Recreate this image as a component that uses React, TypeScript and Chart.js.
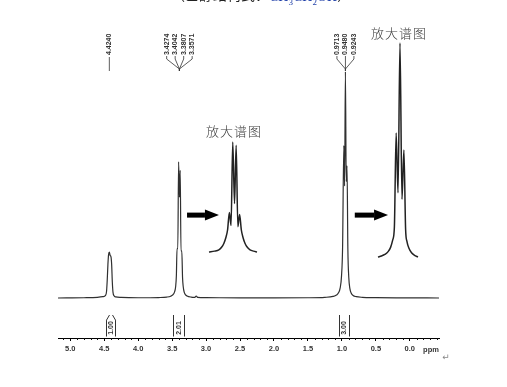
import React, { useEffect, useRef } from 'react';
import { Chart, registerables } from 'chart.js';

Chart.register(...registerables);

// ---------- data ----------
// main 1H spectrum: [chemical shift (ppm), relative intensity]
const mainSpectrum: [number, number][] = [
  [5.18, 0], [4.8, 0.1], [4.6, 0.3], [4.52, 0.6], [4.48, 1.2], [4.465, 3], [4.455, 8],
  [4.445, 15], [4.435, 19.5], [4.424, 20.5], [4.412, 19], [4.4, 18.4], [4.39, 15], [4.38, 7],
  [4.37, 2.5], [4.355, 1.0], [4.33, 0.5], [4.25, 0.25], [4.0, 0.1], [3.7, 0.2], [3.58, 0.4],
  [3.52, 0.8], [3.49, 1.4], [3.465, 2.6], [3.448, 5], [3.437, 10], [3.4274, 22], [3.416, 22],
  [3.4042, 60.8], [3.392, 45], [3.3807, 57], [3.369, 21], [3.3571, 21], [3.346, 9], [3.336, 5],
  [3.322, 2.6], [3.305, 1.5], [3.28, 0.9], [3.22, 0.4], [3.165, 0.3], [3.145, 0.9], [3.125, 0.3],
  [3.0, 0.15], [2.5, 0.05], [2.0, 0.05], [1.5, 0.1], [1.25, 0.3], [1.13, 0.7], [1.08, 1.3],
  [1.05, 2.3], [1.025, 4.5], [1.005, 10], [0.99, 22], [0.9713, 68], [0.96, 50], [0.948, 101],
  [0.936, 52], [0.9243, 59], [0.912, 22], [0.898, 9], [0.882, 4.2], [0.862, 2.1], [0.835, 1.1],
  [0.79, 0.6], [0.7, 0.3], [0.5, 0.15], [0.2, 0.05], [-0.43, 0],
];

// magnified CH2 quartet
const quartetInset: [number, number][] = [
  [3.568, 0], [3.53, 0.8], [3.5, 2], [3.48, 4.5], [3.465, 8], [3.452, 13], [3.44, 20],
  [3.4274, 36], [3.416, 24], [3.4042, 100], [3.392, 44], [3.3807, 97], [3.369, 23],
  [3.3571, 34], [3.345, 20], [3.333, 13], [3.32, 8], [3.305, 4.5], [3.285, 2], [3.26, 0.8],
  [3.237, 0],
];

// magnified CH3 triplet
const tripletInset: [number, number][] = [
  [1.0813, 0], [1.06, 0.5], [1.04, 1.2], [1.02, 2.5], [1.005, 4.5], [0.992, 8], [0.982, 14],
  [0.9713, 58], [0.96, 30], [0.948, 100], [0.936, 27], [0.9243, 50], [0.914, 13], [0.905, 7],
  [0.893, 4], [0.878, 2], [0.86, 0.8], [0.839, 0],
];

const peakLabelGroups: string[][] = [
  ['4.4240'],
  ['3.4274', '3.4042', '3.3807', '3.3571'],
  ['0.9713', '0.9480', '0.9243'],
];

const integralRanges: [number, number][] = [[4.48, 4.34], [3.48, 3.33], [1.04, 0.89]];
const integralValues: string[] = ['1.00', '2.01', '3.00'];

const arrowSpans: [number, number][] = [[3.28, 2.81], [0.81, 0.32]];
const ARROW_LEVEL = 37;

const insetTitle = '放大谱图';
const axisUnit = 'ppm';

// ---------- axis ranges ----------
const X_RANGE = { min: -0.43, max: 5.18 };
const Y_RANGE = { min: -17.86, max: 124.1 };
const QUARTET_X = { min: 1.9818, max: 4.6094 };
const QUARTET_Y = { min: -78.18, max: 210.9 };
const TRIPLET_X = { min: 0.7116, max: 3.0207 };
const TRIPLET_Y = { min: -37.85, max: 110.75 };
const TICK_STEP = 0.5;
const MINOR_STEP = 0.1;

// ---------- style constants ----------
const LABEL_BOTTOM = 55;
const LEADER_END = 71;
const LABEL_SPACING = 8.5;
const INTEGRAL_NECK = [3, 0, 0];
const NUM_FONT = 'bold 7px "Liberation Sans", Arial, sans-serif';

const toXY = (arr: [number, number][]) => arr.map(([x, y]) => ({ x, y }));

const nmrPlugin = {
  id: 'nmrDecor',
  afterDatasetsDraw(chart: any) {
    const { ctx, chartArea: area, scales } = chart;
    const xs = scales.x;
    const ys = scales.y;
    ctx.save();

    // minor ticks
    ctx.strokeStyle = '#111';
    ctx.lineWidth = 1;
    const startI = Math.ceil(X_RANGE.min / MINOR_STEP - 1e-9);
    const endI = Math.floor(X_RANGE.max / MINOR_STEP + 1e-9);
    for (let i = startI; i <= endI; i++) {
      if (Math.abs(i % 5) === 0) continue;
      const px = Math.round(xs.getPixelForValue(i * MINOR_STEP)) + 0.5;
      ctx.beginPath();
      ctx.moveTo(px, area.bottom);
      ctx.lineTo(px, area.bottom + 2);
      ctx.stroke();
    }

    // peak labels with leaders
    ctx.font = NUM_FONT;
    ctx.fillStyle = '#333';
    ctx.strokeStyle = '#333';
    ctx.lineWidth = 0.8;
    peakLabelGroups.forEach((group) => {
      const mean = group.reduce((s, t) => s + parseFloat(t), 0) / group.length;
      const gx = xs.getPixelForValue(mean);
      const n = group.length;
      group.forEach((txt, i) => {
        const lx = gx + (i - (n - 1) / 2) * LABEL_SPACING;
        ctx.save();
        ctx.translate(lx, LABEL_BOTTOM);
        ctx.rotate(-Math.PI / 2);
        ctx.textAlign = 'left';
        ctx.textBaseline = 'middle';
        ctx.fillText(txt, 0, 0);
        ctx.restore();
        ctx.beginPath();
        if (n === 1) {
          ctx.moveTo(lx, LABEL_BOTTOM + 2);
          ctx.lineTo(gx, LEADER_END);
        } else {
          ctx.moveTo(lx, LABEL_BOTTOM + 1);
          ctx.lineTo(lx, LABEL_BOTTOM + 4);
          ctx.lineTo(gx, LEADER_END - 2);
          ctx.lineTo(gx, LEADER_END);
        }
        ctx.stroke();
      });
    });

    // integrals
    ctx.lineWidth = 1;
    integralRanges.forEach(([a, b], k) => {
      const x1 = Math.round(xs.getPixelForValue(a)) + 0.5;
      const x2 = Math.round(xs.getPixelForValue(b)) + 0.5;
      const top = area.bottom - 23;
      const bot = area.bottom - 1.5;
      const neck = INTEGRAL_NECK[k];
      ctx.beginPath();
      ctx.moveTo(x1 + neck, top);
      ctx.lineTo(x1, top + neck * 1.7);
      ctx.lineTo(x1, bot);
      ctx.moveTo(x2 - neck, top);
      ctx.lineTo(x2, top + neck * 1.7);
      ctx.lineTo(x2, bot);
      ctx.stroke();
      ctx.save();
      ctx.translate((x1 + x2) / 2, area.bottom - 10);
      ctx.rotate(-Math.PI / 2);
      ctx.textAlign = 'center';
      ctx.textBaseline = 'middle';
      ctx.fillText(integralValues[k], 0, 0);
      ctx.restore();
    });

    // arrows
    ctx.fillStyle = '#000';
    arrowSpans.forEach(([a, b]) => {
      const x1 = xs.getPixelForValue(a);
      const x2 = xs.getPixelForValue(b);
      const y = ys.getPixelForValue(ARROW_LEVEL);
      const head = 14;
      ctx.fillRect(x1, y - 2.5, x2 - head - x1, 5);
      ctx.beginPath();
      ctx.moveTo(x2 - head, y - 5.5);
      ctx.lineTo(x2, y);
      ctx.lineTo(x2 - head, y + 5.5);
      ctx.closePath();
      ctx.fill();
    });

    // inset titles
    ctx.font = '300 13px "Noto Sans CJK SC", sans-serif';
    ctx.fillStyle = '#3a3a3a';
    ctx.textAlign = 'center';
    ctx.textBaseline = 'middle';
    try { (ctx as any).letterSpacing = '1px'; } catch (e) { /* ignore */ }
    const insets: [string, string, [number, number][], number][] = [
      ['xq', 'yq', quartetInset, -11],
      ['xt', 'yt', tripletInset, -9.5],
    ];
    insets.forEach(([xid, yid, data, off]) => {
      const sx = scales[xid];
      const sy = scales[yid];
      const cx = (sx.getPixelForValue(data[0][0]) + sx.getPixelForValue(data[data.length - 1][0])) / 2;
      const top = Math.max(...data.map((d) => d[1]));
      ctx.fillText(insetTitle, cx + 1, sy.getPixelForValue(top) + off);
    });
    try { (ctx as any).letterSpacing = '0px'; } catch (e) { /* ignore */ }

    // unit label
    ctx.font = 'bold 7.5px "Liberation Sans", Arial, sans-serif';
    ctx.fillStyle = '#333';
    ctx.fillText(axisUnit, area.right - 8, area.bottom + 12);

    // return mark
    ctx.font = '9px "DejaVu Sans", sans-serif';
    ctx.fillStyle = '#888';
    ctx.fillText('↵', area.right + 7, area.bottom + 20);

    ctx.restore();
  },
};

export default function App() {
  const canvasRef = useRef<HTMLCanvasElement | null>(null);

  useEffect(() => {
    if (!canvasRef.current) return;
    const chart = new Chart(canvasRef.current, {
      type: 'line',
      data: {
        datasets: [
          {
            data: toXY(mainSpectrum),
            xAxisID: 'x',
            yAxisID: 'y',
            borderColor: '#303030',
            borderWidth: 1.2,
            pointRadius: 0,
            fill: false,
            cubicInterpolationMode: 'monotone',
          },
          {
            data: toXY(quartetInset),
            xAxisID: 'xq',
            yAxisID: 'yq',
            borderColor: '#222',
            borderWidth: 1.5,
            pointRadius: 0,
            fill: false,
            cubicInterpolationMode: 'monotone',
          },
          {
            data: toXY(tripletInset),
            xAxisID: 'xt',
            yAxisID: 'yt',
            borderColor: '#222',
            borderWidth: 1.5,
            pointRadius: 0,
            fill: false,
            cubicInterpolationMode: 'monotone',
          },
        ],
      },
      options: {
        responsive: false,
        animation: false,
        events: [],
        layout: { padding: { left: 58, right: 68, top: 20, bottom: 19 } },
        plugins: { legend: { display: false }, tooltip: { enabled: false } },
        scales: {
          x: {
            type: 'linear',
            position: 'bottom',
            reverse: true,
            min: X_RANGE.min,
            max: X_RANGE.max,
            afterFit: (scale: any) => { scale.height = 30; },
            border: { display: true, color: '#000', width: 1 },
            grid: { drawOnChartArea: false, drawTicks: true, tickLength: 3, color: '#000', lineWidth: 1 },
            ticks: {
              stepSize: TICK_STEP,
              includeBounds: false,
              autoSkip: false,
              maxRotation: 0,
              padding: 3,
              color: '#333',
              font: { family: '"Liberation Sans", Arial, sans-serif', size: 7.5, weight: 'bold' },
              callback: (v: any) => {
                const n = Number(v);
                return (Math.abs(n) < 1e-9 ? 0 : n).toFixed(1);
              },
            },
          },
          y: { type: 'linear', display: false, min: Y_RANGE.min, max: Y_RANGE.max },
          xq: { type: 'linear', display: false, reverse: true, min: QUARTET_X.min, max: QUARTET_X.max },
          yq: { type: 'linear', display: false, min: QUARTET_Y.min, max: QUARTET_Y.max },
          xt: { type: 'linear', display: false, reverse: true, min: TRIPLET_X.min, max: TRIPLET_X.max },
          yt: { type: 'linear', display: false, min: TRIPLET_Y.min, max: TRIPLET_Y.max },
        },
      } as any,
      plugins: [nmrPlugin],
    });
    return () => chart.destroy();
  }, []);

  return (
    <div style={{ position: 'absolute', left: 0, top: 0, width: 507, height: 387, overflow: 'hidden', background: '#fff' }}>
      <div
        style={{
          position: 'absolute',
          left: 171,
          top: -13,
          fontSize: 14,
          lineHeight: '14px',
          whiteSpace: 'nowrap',
          fontFamily: '"Noto Sans CJK SC", sans-serif',
          color: '#222',
        }}
      >
        （乙醇结构式：
        <span style={{ color: '#1f3fa8', fontFamily: '"Liberation Serif", serif', position: 'relative', top: 1 }}>
          CH<sub style={{ fontSize: 9 }}>3</sub>CH<sub style={{ fontSize: 9 }}>2</sub>OH
        </span>
        ）<span style={{ color: '#999', fontSize: 10 }}>↵</span>
      </div>
      <canvas ref={canvasRef} width={507} height={387} style={{ display: 'block', width: 507, height: 387 }} />
    </div>
  );
}
